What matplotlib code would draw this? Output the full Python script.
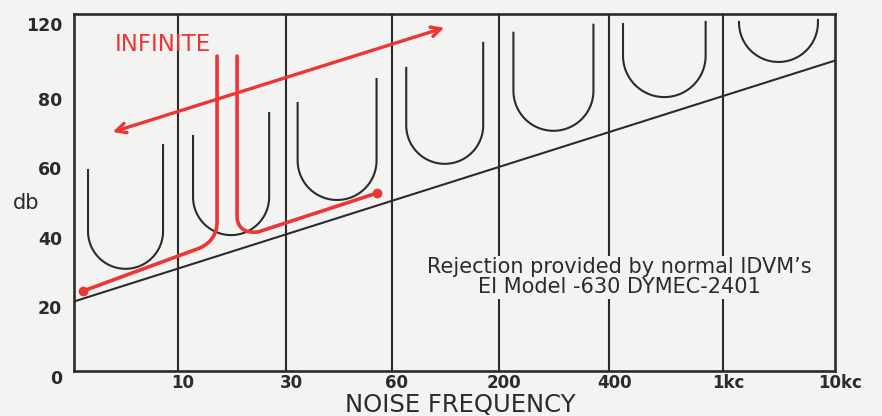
import numpy as np
import matplotlib
matplotlib.use("Agg")
import matplotlib.pyplot as plt
from matplotlib.path import Path
from matplotlib.patches import PathPatch, FancyArrowPatch
from matplotlib.transforms import ScaledTranslation

# ---- data -------------------------------------------------------------
freq_labels = ["10", "30", "60", "200", "400", "1kc", "10kc"]
band_edges = [0.957, 1.950, 2.925, 3.910, 4.922, 5.971, 7.0]
db_labels = ["0", "20", "40", "60", "80", "120"]
db_tick_pos = [0, 20, 40, 60, 80, 101.5]

# rejection provided by normal IDVM's (straight reference line)
ref_x = [0, 7]
ref_db = [20, 89.3]

# U-shaped rejection notches, one per frequency band
u_center = [0.474, 1.445, 2.42, 3.41, 4.41, 5.43, 6.48]
u_half = [0.345, 0.35, 0.363, 0.354, 0.368, 0.38, 0.363]
u_bottom = [29.4, 39.1, 49.2, 59.6, 69.1, 78.8, 88.9]
u_left_top = [58.1, 67.9, 77.4, 87.5, 97.6, 100.1, 100.7]
u_right_top = [65.3, 74.5, 84.3, 94.7, 99.9, 100.7, 101.3]

# red "infinite" rejection traces
red1_x = [0.083, 1.159, 1.316, 1.316, 1.316]
red1_db = [23.0, 35.4, 37.7, 42.9, 90.6]
red2_x = [1.5, 1.5, 1.518, 1.693, 2.788]
red2_db = [90.6, 44.0, 39.4, 40.0, 51.2]

arrow_x = [0.331, 3.431]
arrow_db = [68.5, 99.0]

# ---- figure -----------------------------------------------------------
BG = "#f3f3f1"
INK = "#2b2b2b"
RED = "#ee3535"

fig = plt.figure(figsize=(8.82, 4.16), dpi=100, facecolor=BG)
ax = fig.add_axes([74 / 882, 45 / 416, (835 - 74) / 882, (371 - 14) / 416])
ax.set_facecolor(BG)
ax.set_xlim(0, 7)
ax.set_ylim(0, 102.7)

for s in ax.spines.values():
    s.set_color(INK)
    s.set_linewidth(1.9)

ax.set_xticks(band_edges)
ax.set_xticklabels(freq_labels)
ax.set_yticks(db_tick_pos)
ax.set_yticklabels(db_labels)
ax.tick_params(length=0, labelsize=12.5, colors=INK)
ax.tick_params(axis="x", pad=2.5, labelsize=12)
ax.tick_params(axis="y", pad=7)
for lab in ax.get_xticklabels() + ax.get_yticklabels():
    lab.set_fontweight("bold")
for lab in ax.get_xticklabels():
    lab.set_transform(lab.get_transform() + ScaledTranslation(5 / 100, 0, fig.dpi_scale_trans))
for lab in ax.get_yticklabels():
    lab.set_transform(lab.get_transform() + ScaledTranslation(-2 / 100, -6 / 100, fig.dpi_scale_trans))

# vertical band dividers
for e in band_edges[:-1]:
    ax.axvline(e, color=INK, lw=1.5, zorder=1)

# reference line
ax.plot(ref_x, ref_db, color=INK, lw=1.5, zorder=2)

# U notches: straight arms joined by a semicircle (round in screen space)
fig.canvas.draw()
p0 = ax.transData.transform((0, 0))
p1 = ax.transData.transform((1, 1))
ratio = (p1[0] - p0[0]) / (p1[1] - p0[1])
t = np.linspace(np.pi, 2 * np.pi, 80)
for c, hw, b, lt, rt in zip(u_center, u_half, u_bottom, u_left_top, u_right_top):
    ry = hw * ratio
    cy = b + ry
    xs = np.concatenate([[c - hw], c + hw * np.cos(t), [c + hw]])
    ys = np.concatenate([[lt], cy + ry * np.sin(t), [rt]])
    ax.plot(xs, ys, color=INK, lw=1.5, zorder=3, solid_capstyle="butt")

# red traces with rounded corners
codes = [Path.MOVETO, Path.LINETO, Path.CURVE3, Path.CURVE3, Path.LINETO]
path1 = Path(list(zip(red1_x, red1_db)), codes)
path2 = Path(list(zip(red2_x, red2_db)), codes)
for p in (path1, path2):
    ax.add_patch(PathPatch(p, fill=False, edgecolor=RED, lw=2.6, zorder=4,
                           capstyle="round", joinstyle="round"))
ax.plot([red1_x[0]], [red1_db[0]], "o", color=RED, ms=6, zorder=5)
ax.plot([red2_x[-1]], [red2_db[-1]], "o", color=RED, ms=6, zorder=5)

ax.add_patch(FancyArrowPatch((arrow_x[0], arrow_db[0]), (arrow_x[1], arrow_db[1]),
                             arrowstyle="<->,head_length=7,head_width=3.5",
                             color=RED, lw=2.4, zorder=5))

ax.text(0.82, 93.8, "INFINITE", color=RED, fontsize=16.5, ha="center", va="center",
        zorder=6)

ax.text(5.014, 26.9, "Rejection provided by normal IDVM\u2019s\nEI Model -630 DYMEC-2401",
        ha="center", va="center", fontsize=15, color=INK, linespacing=1.0,
        zorder=6, bbox=dict(facecolor=BG, edgecolor="none", pad=1))

fig.text(460 / 882, 1 - 405 / 416, "NOISE FREQUENCY", ha="center", va="center",
         fontsize=17.5, color=INK)
fig.text(26 / 882, 1 - 203 / 416, "db", ha="center", va="center",
         fontsize=15, color=INK)

fig.savefig("out.png", dpi=100, facecolor=BG)
